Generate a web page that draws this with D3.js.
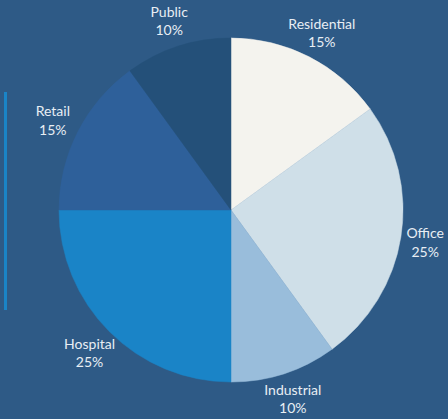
<!DOCTYPE html>
<html><head><meta charset="utf-8">
<script src="https://cdn.jsdelivr.net/npm/d3@7"></script>
<style>html,body{margin:0;padding:0;background:#2e5a86;overflow:hidden}</style>
</head><body><svg id="c" width="448" height="419"></svg>
<script>
const categories = ["Residential","Office","Industrial","Hospital","Retail","Public"];
const values = [15,25,10,25,15,10];
const colors = ["#f4f3ee","#cfdfe8","#99bddb","#1a84c7","#2e609a","#245079"];

const W = 448, H = 419;
const svg = d3.select("#c");
svg.append("rect").attr("width",W).attr("height",H).attr("fill","#2e5a86");
svg.append("line").attr("x1",5.5).attr("x2",5.5).attr("y1",92).attr("y2",310)
  .attr("stroke","#1a84c7").attr("stroke-width",3);

const cx = 231, cy = 210, R = 172, LR = 200;
const data = categories.map((c,i)=>({cat:c,val:values[i],col:colors[i]}));
const pie = d3.pie().value(d=>d.val).sort(null);
const arcs = pie(data);
const arc = d3.arc().innerRadius(0).outerRadius(R);
const g = svg.append("g").attr("transform",`translate(${cx},${cy})`);
g.selectAll("path").data(arcs).join("path").attr("d",arc).attr("fill",d=>d.data.col)
  .attr("stroke",d=>d.data.col).attr("stroke-width",0.5);

const labelArc = d3.arc().innerRadius(LR).outerRadius(LR);
const total = d3.sum(values);
const lab = g.selectAll("text").data(arcs).join("text")
  .attr("text-anchor","middle")
  .attr("font-family","Lato, 'Open Sans', sans-serif").attr("font-size",14)
  .attr("fill","#e8eef4");
lab.append("tspan").attr("x",0).attr("dy","-0.2em").text(d=>d.data.cat);
lab.append("tspan").attr("x",0).attr("dy","1.3em").text(d=>Math.round(d.data.val/total*100)+"%");
lab.attr("transform",function(d){
  let [x,y]=labelArc.centroid(d);
  const b=this.getBBox();
  x=Math.min(x, W-cx-b.width/2-4);
  x=Math.max(x, -cx+b.width/2+4);
  y=Math.min(y, H-cy-(b.y+b.height)-3);
  y=Math.max(y, -cy-b.y+3);
  return `translate(${x},${y})`;
});
</script></body></html>
